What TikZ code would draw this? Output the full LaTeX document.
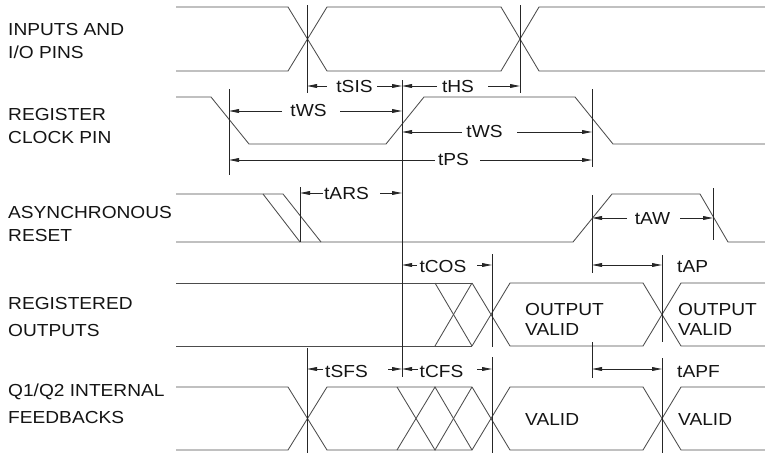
\documentclass[tikz,border=0pt]{standalone}
\usepackage{fontspec}
\setmainfont{Liberation Sans}[FakeStretch=1.1]
\usetikzlibrary{arrows.meta}
\begin{document}
\begin{tikzpicture}[x=1pt,y=-1pt,
  sig/.style={line width=0.85pt, draw=black!70},
  vline/.style={line width=0.85pt, draw=black!85},
  dimarr/.style={line width=0.85pt, draw=black!85, -{Triangle[length=10pt,width=3.8pt]}},
  dimboth/.style={line width=0.85pt, draw=black!85, {Triangle[length=10pt,width=3.8pt]}-{Triangle[length=10pt,width=3.8pt]}},
  lbl/.style={font=\fontsize{17.4}{20}\selectfont, text=black!92, inner sep=0pt},
]
\useasboundingbox (0,0) rectangle (765,453);

% ---------- signal waveforms ----------
% Inputs and I/O pins
\draw[sig] (176,7)--(288,7)--(327,71)--(501,71)--(539,7)--(765,7);
\draw[sig] (176,71)--(288,71)--(327,7)--(501,7)--(539,71)--(765,71);
% Register clock pin
\draw[sig] (176,97)--(211,97)--(249,144)--(386,144)--(424,97)--(575,97)--(613,144)--(765,144);
% Asynchronous reset
\draw[sig] (176,194)--(283,194)--(321,242);
\draw[sig] (263,194)--(300,242);
\draw[sig] (176,242)--(573,242)--(612,194)--(700,194)--(728,242)--(765,242);
% Registered outputs
\draw[sig] (176,283)--(472,283);
\draw[sig] (176,346)--(472,346);
\draw[sig] (435,283)--(472,346);
\draw[sig] (435,346)--(472,283);
\draw[sig] (472,283)--(510,346)--(643,346)--(681,283)--(765,283);
\draw[sig] (472,346)--(510,283)--(643,283)--(681,346)--(765,346);
% Q1/Q2 internal feedbacks
\draw[sig] (176,387)--(288,387)--(327,450)--(472,450)--(510,387)--(643,387)--(681,450)--(765,450);
\draw[sig] (176,450)--(288,450)--(327,387)--(472,387)--(510,450)--(643,450)--(681,387)--(765,387);
\draw[sig] (397,387)--(435,450)--(472,387);
\draw[sig] (397,450)--(435,387)--(472,450);

% ---------- reference (vertical) lines ----------
\coordinate (v1t) at (307,5);   \coordinate (v1b) at (307,93);
\coordinate (v2t) at (520,5);   \coordinate (v2b) at (520,93);
\coordinate (v3t) at (229,89);  \coordinate (v3b) at (229,175);
\coordinate (v4t) at (402,80);  \coordinate (v4b) at (402,377);
\coordinate (v5t) at (592,89);  \coordinate (v5b) at (592,167);
\coordinate (v6t) at (300,187); \coordinate (v6b) at (300,242);
\coordinate (v7t) at (592,195); \coordinate (v7b) at (592,273);
\coordinate (v8t) at (713,188); \coordinate (v8b) at (713,240);
\coordinate (v9t) at (492,254); \coordinate (v9b) at (492,347);
\coordinate (v10t) at (662,255); \coordinate (v10b) at (662,342);
\coordinate (v11t) at (307,348); \coordinate (v11b) at (307,453);
\coordinate (v12t) at (492,357); \coordinate (v12b) at (492,453);
\coordinate (v13t) at (592,342); \coordinate (v13b) at (592,378);
\coordinate (v14t) at (662,358); \coordinate (v14b) at (662,453);
\foreach \v in {1,...,14} {\draw[vline] (v\v t) -- (v\v b);}

% ---------- dimension arrows ----------
% tSIS
\coordinate (sisA) at (307,86); \coordinate (sisB) at (327,86);
\coordinate (sisC) at (377,86); \coordinate (sisD) at (402,86);
\draw[dimarr] (sisB) -- (sisA); \draw[dimarr] (sisC) -- (sisD);
\node[lbl, anchor=base] (tsis) at (354.5,92) {tSIS};
% tHS
\coordinate (hsA) at (402,86); \coordinate (hsB) at (437,86);
\coordinate (hsC) at (488,86); \coordinate (hsD) at (520,86);
\draw[dimarr] (hsB) -- (hsA); \draw[dimarr] (hsC) -- (hsD);
\node[lbl, anchor=base] (ths) at (458,92) {tHS};
% tWS (1)
\coordinate (wsaA) at (229,111); \coordinate (wsaB) at (282,111);
\coordinate (wsaC) at (340,111); \coordinate (wsaD) at (402,111);
\draw[dimarr] (wsaB) -- (wsaA); \draw[dimarr] (wsaC) -- (wsaD);
\node[lbl, anchor=base] (twsa) at (308.5,116) {tWS};
% tWS (2)
\coordinate (wsbA) at (402,132); \coordinate (wsbB) at (462,132);
\coordinate (wsbC) at (517,132); \coordinate (wsbD) at (592,132);
\draw[dimarr] (wsbB) -- (wsbA); \draw[dimarr] (wsbC) -- (wsbD);
\node[lbl, anchor=base] (twsb) at (484.5,137) {tWS};
% tPS
\coordinate (psA) at (229,160); \coordinate (psB) at (435,160);
\coordinate (psC) at (480,160); \coordinate (psD) at (592,160);
\draw[dimarr] (psB) -- (psA); \draw[dimarr] (psC) -- (psD);
\node[lbl, anchor=base] (tps) at (453.5,165) {tPS};
% tARS
\coordinate (arsA) at (300,193); \coordinate (arsB) at (323,193);
\coordinate (arsC) at (380,193); \coordinate (arsD) at (402,193);
\draw[dimarr] (arsB) -- (arsA); \draw[dimarr] (arsC) -- (arsD);
\node[lbl, anchor=base] (tars) at (346.5,199) {tARS};
% tAW
\coordinate (awA) at (592,218); \coordinate (awB) at (627,218);
\coordinate (awC) at (680,218); \coordinate (awD) at (713,218);
\draw[dimarr] (awB) -- (awA); \draw[dimarr] (awC) -- (awD);
\node[lbl, anchor=base] (taw) at (652.5,224) {tAW};
% tCOS
\coordinate (cosA) at (402,265); \coordinate (cosB) at (417,265);
\coordinate (cosC) at (477,265); \coordinate (cosD) at (492,265);
\draw[dimarr] (cosB) -- (cosA); \draw[dimarr] (cosC) -- (cosD);
\node[lbl, anchor=base] (tcos) at (443,272) {tCOS};
% tAP
\coordinate (apA) at (592,265); \coordinate (apB) at (662,265);
\draw[dimboth] (apA) -- (apB);
\node[lbl, anchor=base west] (tap) at (677,272) {tAP};
% tSFS
\coordinate (sfsA) at (307,369); \coordinate (sfsB) at (323,369);
\coordinate (sfsC) at (388,369); \coordinate (sfsD) at (402,369);
\draw[dimarr] (sfsB) -- (sfsA); \draw[dimarr] (sfsC) -- (sfsD);
\node[lbl, anchor=base] (tsfs) at (346.5,377) {tSFS};
% tCFS
\coordinate (cfsA) at (402,369); \coordinate (cfsB) at (418,369);
\coordinate (cfsC) at (477,369); \coordinate (cfsD) at (492,369);
\draw[dimarr] (cfsB) -- (cfsA); \draw[dimarr] (cfsC) -- (cfsD);
\node[lbl, anchor=base] (tcfs) at (441.5,377) {tCFS};
% tAPF
\coordinate (apfA) at (592,369); \coordinate (apfB) at (662,369);
\draw[dimboth] (apfA) -- (apfB);
\node[lbl, anchor=base west] (tapf) at (677,377) {tAPF};

% ---------- data labels ----------
\node[lbl, anchor=base west] (ov1a) at (525,315) {OUTPUT};
\node[lbl, anchor=base west] (ov1b) at (525,335) {VALID};
\node[lbl, anchor=base west] (ov2a) at (678,315) {OUTPUT};
\node[lbl, anchor=base west] (ov2b) at (678,335) {VALID};
\node[lbl, anchor=base west] (fv1) at (525,425) {VALID};
\node[lbl, anchor=base west] (fv2) at (678,425) {VALID};

% ---------- signal names ----------
\node[lbl, anchor=base west] (n1a) at (8,35) {INPUTS AND};
\node[lbl, anchor=base west] (n1b) at (8,58) {I/O PINS};
\node[lbl, anchor=base west] (n2a) at (8,120) {REGISTER};
\node[lbl, anchor=base west] (n2b) at (8,143) {CLOCK PIN};
\node[lbl, anchor=base west] (n3a) at (8,218) {ASYNCHRONOUS};
\node[lbl, anchor=base west] (n3b) at (8,241) {RESET};
\node[lbl, anchor=base west] (n4a) at (8,309) {REGISTERED};
\node[lbl, anchor=base west] (n4b) at (8,336) {OUTPUTS};
\node[lbl, anchor=base west] (n5a) at (8,396) {Q1/Q2 INTERNAL};
\node[lbl, anchor=base west] (n5b) at (8,423) {FEEDBACKS};
\end{tikzpicture}
\end{document}
